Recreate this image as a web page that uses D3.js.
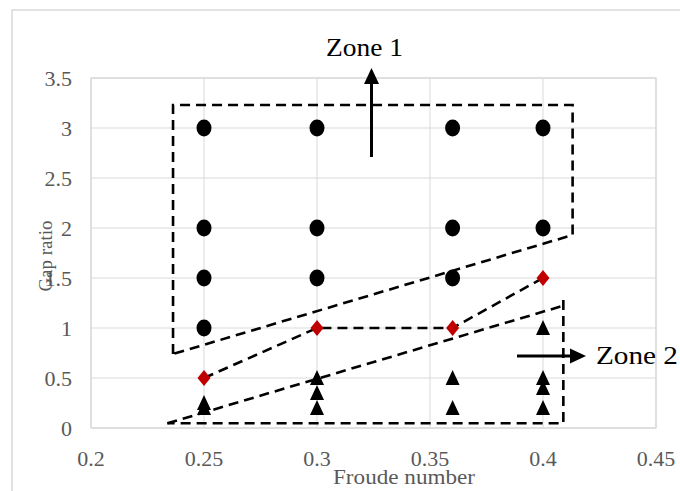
<!DOCTYPE html>
<html>
<head>
<meta charset="utf-8">
<script src="https://cdn.jsdelivr.net/npm/d3@7"></script>
<style>
  html, body { margin: 0; padding: 0; background: #fff; }
  svg { display: block; }
</style>
</head>
<body>
<svg id="chart" width="680" height="491"></svg>
<script>
// ---- data ----
const xTicks = [0.2, 0.25, 0.3, 0.35, 0.4, 0.45];
const xTickLabels = ["0.2", "0.25", "0.3", "0.35", "0.4", "0.45"];
const yTicks = [0, 0.5, 1, 1.5, 2, 2.5, 3, 3.5];
const yTickLabels = ["0", "0.5", "1", "1.5", "2", "2.5", "3", "3.5"];

// black circles
const circleFr  = [0.25, 0.25, 0.25, 0.25, 0.3, 0.3, 0.3, 0.36, 0.36, 0.36, 0.4, 0.4];
const circleGap = [3,    2,    1.5,  1,    3,   2,   1.5, 3,    2,    1.5,  3,   2];
// red diamonds
const diamondFr  = [0.25, 0.3, 0.36, 0.4];
const diamondGap = [0.5,  1.0, 1.0,  1.5];
// black triangles
const triFr  = [0.25, 0.25, 0.3, 0.3,  0.3, 0.36, 0.36, 0.4, 0.4, 0.4, 0.4];
const triGap = [0.25, 0.2,  0.5, 0.35, 0.2, 0.5,  0.2,  1.0, 0.5, 0.4, 0.2];

// dashed zone boundaries (data coordinates)
const zone1Fr  = [0.2363, 0.2363, 0.4131, 0.4131, 0.2363];
const zone1Gap = [0.74,   3.23,   3.23,   1.93,   0.74];
const midFr  = [0.25, 0.3, 0.36, 0.4];
const midGap = [0.5,  1.0, 1.0,  1.5];
const zone2DiagFr  = [0.2338, 0.4085];
const zone2DiagGap = [0.047,  1.22];
const zone2BoxFr  = [0.409, 0.409, 0.2338];
const zone2BoxGap = [1.28,  0.047, 0.047];

// ---- layout ----
const svg = d3.select("#chart");
const W = 680, H = 491;
const mLeft = 91, mRight = 656, mTop = 78, mBottom = 428;
const x = d3.scaleLinear().domain([0.2, 0.45]).range([mLeft, mRight]);
const y = d3.scaleLinear().domain([0, 3.5]).range([mBottom, mTop]);
const font = "'Liberation Serif', 'Times New Roman', serif";
const textGray = "#595959";
const gridGray = "#d9d9d9";

// outer chart frame
svg.append("path")
  .attr("d", `M12,${H} L12,10 L${W},10`)
  .attr("fill", "none").attr("stroke", "#d9d9d9").attr("stroke-width", 1.5);

// gridlines
svg.append("g").selectAll("line").data(yTicks).join("line")
  .attr("x1", mLeft).attr("x2", mRight)
  .attr("y1", d => y(d)).attr("y2", d => y(d))
  .attr("stroke", gridGray).attr("stroke-width", 1);
svg.append("g").selectAll("line").data(xTicks).join("line")
  .attr("y1", mTop).attr("y2", mBottom)
  .attr("x1", d => x(d)).attr("x2", d => x(d))
  .attr("stroke", gridGray).attr("stroke-width", 1);
svg.append("rect")
  .attr("x", mLeft).attr("y", mTop).attr("width", mRight - mLeft).attr("height", mBottom - mTop)
  .attr("fill", "none").attr("stroke", gridGray).attr("stroke-width", 1.3);

// tick labels
svg.append("g").selectAll("text").data(yTicks).join("text")
  .attr("x", 72).attr("y", d => y(d)).attr("dy", "0.35em")
  .attr("text-anchor", "end")
  .attr("font-family", font).attr("font-size", 22).attr("fill", textGray)
  .text((d, i) => yTickLabels[i]);
svg.append("g").selectAll("text").data(xTicks).join("text")
  .attr("x", d => x(d)).attr("y", 466)
  .attr("text-anchor", "middle")
  .attr("font-family", font).attr("font-size", 22).attr("fill", textGray)
  .text((d, i) => xTickLabels[i]);

// axis titles
svg.append("text")
  .attr("x", 404).attr("y", 484).attr("text-anchor", "middle")
  .attr("font-family", font).attr("font-size", 22).attr("fill", textGray)
  .attr("textLength", 142).attr("lengthAdjust", "spacingAndGlyphs")
  .text("Froude number");
svg.append("text")
  .attr("transform", "translate(52,256) rotate(-90)")
  .attr("text-anchor", "middle")
  .attr("font-family", font).attr("font-size", 19).attr("fill", textGray)
  .text("Gap ratio");

// dashed lines
const line = d3.line().x(d => x(d[0])).y(d => y(d[1]));
function dashed(frs, gaps) {
  svg.append("path")
    .attr("d", line(frs.map((f, i) => [f, gaps[i]])))
    .attr("fill", "none").attr("stroke", "#000").attr("stroke-width", 2.6)
    .attr("stroke-dasharray", "10,6");
}
dashed(zone1Fr, zone1Gap);
dashed(midFr, midGap);
dashed(zone2DiagFr, zone2DiagGap);
dashed(zone2BoxFr, zone2BoxGap);

// markers
svg.append("g").selectAll("ellipse").data(circleFr).join("ellipse")
  .attr("cx", d => x(d)).attr("cy", (d, i) => y(circleGap[i]))
  .attr("rx", 7.5).attr("ry", 8.5).attr("fill", "#000");
svg.append("g").selectAll("path").data(triFr).join("path")
  .attr("transform", (d, i) => `translate(${x(d)},${y(triGap[i])})`)
  .attr("d", "M0,-8 L7,7 L-7,7 Z").attr("fill", "#000");
svg.append("g").selectAll("path").data(diamondFr).join("path")
  .attr("transform", (d, i) => `translate(${x(d)},${y(diamondGap[i])})`)
  .attr("d", "M0,-8 L6.5,0 L0,8 L-6.5,0 Z").attr("fill", "#c00000");

// Zone 1 arrow
svg.append("line")
  .attr("x1", 371.5).attr("x2", 371.5).attr("y1", 157).attr("y2", 80)
  .attr("stroke", "#000").attr("stroke-width", 3);
svg.append("path").attr("d", "M371.5,68 L379,84 L364,84 Z").attr("fill", "#000");
svg.append("text")
  .attr("x", 326).attr("y", 56)
  .attr("font-family", font).attr("font-size", 25).attr("fill", "#000")
  .attr("textLength", 77).attr("lengthAdjust", "spacingAndGlyphs")
  .text("Zone 1");

// Zone 2 arrow
svg.append("line")
  .attr("x1", 517).attr("x2", 572).attr("y1", 356).attr("y2", 356)
  .attr("stroke", "#000").attr("stroke-width", 3);
svg.append("path").attr("d", "M586,356 L570,348.5 L570,363.5 Z").attr("fill", "#000");
svg.append("text")
  .attr("x", 596).attr("y", 364)
  .attr("font-family", font).attr("font-size", 25).attr("fill", "#000")
  .attr("textLength", 82).attr("lengthAdjust", "spacingAndGlyphs")
  .text("Zone 2");
</script>
</body>
</html>
